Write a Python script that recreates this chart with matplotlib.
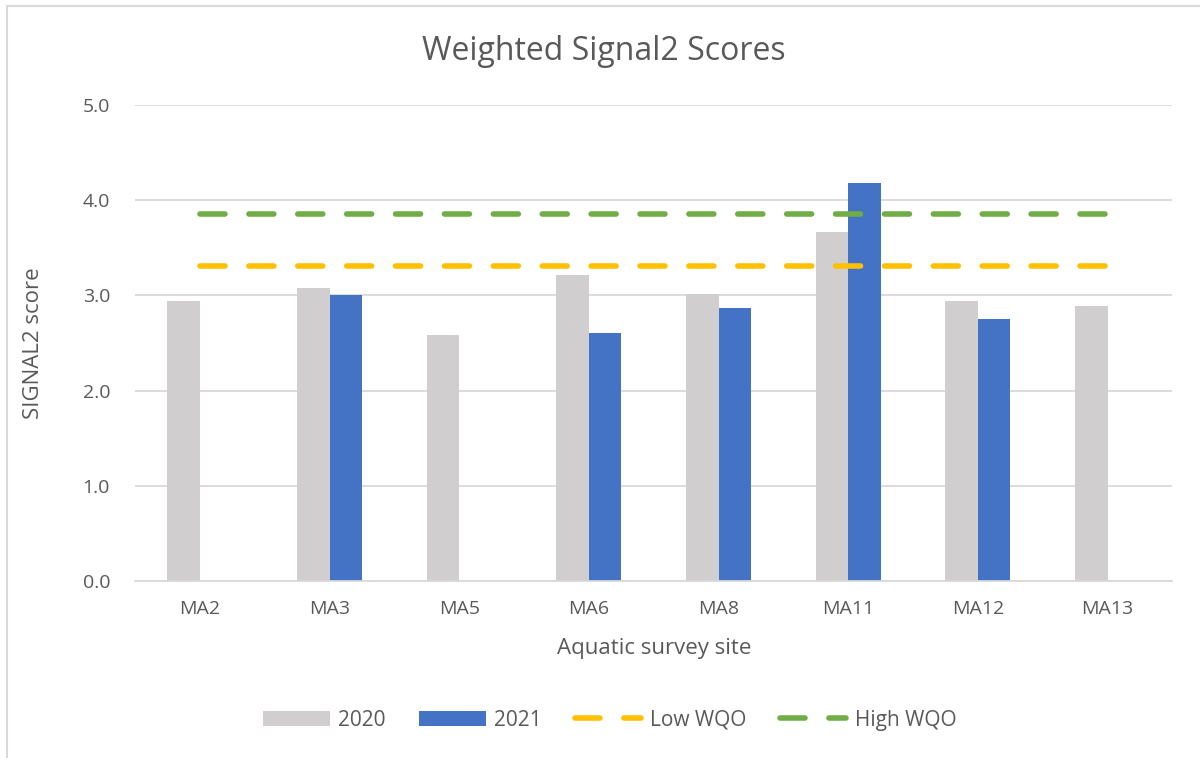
import numpy as np
import matplotlib
matplotlib.use('Agg')
import matplotlib.pyplot as plt
from matplotlib.patches import Rectangle

plt.rcParams['font.family'] = ['Open Sans', 'DejaVu Sans']

sites = ['MA2', 'MA3', 'MA5', 'MA6', 'MA8', 'MA11', 'MA12', 'MA13']
scores_2020 = [2.94, 3.08, 2.58, 3.21, 3.01, 3.67, 2.94, 2.89]
scores_2021 = [np.nan, 3.00, np.nan, 2.60, 2.87, 4.18, 2.75, np.nan]
low_wqo = [3.31] * len(sites)
high_wqo = [3.85] * len(sites)

text_col = '#595959'
grid_col = '#d9d9d9'

fig = plt.figure(figsize=(12, 7.58), dpi=100)
ax = fig.add_axes([0.1125, 0.2335, 0.8645, 0.628])

# light frame round the chart, cut off at the right and bottom as in the original
fig.patches.append(Rectangle((0.006, -0.05), 1.1, 1.042, transform=fig.transFigure,
                             fill=False, edgecolor=grid_col, lw=1.5))

x = np.arange(len(sites))
w = 0.25
ax.bar(x - w / 2, scores_2020, w, color='#d0cece', label='2020', zorder=2)
ax.bar(x + w / 2, scores_2021, w, color='#4472c4', label='2021', zorder=2)
ax.plot(x, low_wqo, color='#ffc000', lw=4, ls=(0, (4.5, 4.3)), dash_capstyle='round',
        label='Low WQO', zorder=3)
ax.plot(x, high_wqo, color='#70ad47', lw=4, ls=(0, (4.5, 4.3)), dash_capstyle='round',
        label='High WQO', zorder=3)

ax.set_xlim(-0.5, len(sites) - 0.5)
ax.set_ylim(0, 5)
ax.set_yticks(np.arange(0, 5.01, 1.0))
ax.set_yticklabels([f'{v:.1f}' for v in np.arange(0, 5.01, 1.0)])
ax.set_xticks(x)
ax.set_xticklabels(sites)
ax.grid(axis='y', color=grid_col, lw=1.3, zorder=0)
for s in ['top', 'right', 'left']:
    ax.spines[s].set_visible(False)
ax.spines['bottom'].set_color(grid_col)
ax.spines['bottom'].set_linewidth(1.3)
ax.tick_params(axis='x', length=0, labelsize=14, labelcolor=text_col, pad=14)
ax.tick_params(axis='y', length=0, labelsize=14, labelcolor=text_col, pad=18)

fig.text(0.503, 0.932, 'Weighted Signal2 Scores', fontsize=23, color=text_col,
         ha='center', va='center')
ax.set_xlabel('Aquatic survey site', fontsize=16, color=text_col, labelpad=14)
ax.set_ylabel('SIGNAL2 score', fontsize=16, color=text_col, labelpad=28)

handles, labels = ax.get_legend_handles_labels()
order = [2, 3, 0, 1]
leg = fig.legend([handles[i] for i in order], [labels[i] for i in order],
                 loc='center', bbox_to_anchor=(0.508, 0.05), ncol=4, frameon=False,
                 fontsize=15, handlelength=3.2, handleheight=0.75, columnspacing=1.6,
                 handletextpad=0.4)
for t in leg.get_texts():
    t.set_color(text_col)

fig.savefig('out.png', dpi=100, facecolor='white')
